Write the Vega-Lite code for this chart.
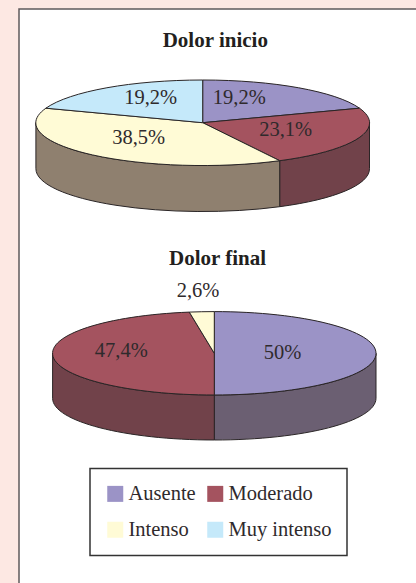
{
"$schema":"https://vega.github.io/schema/vega-lite/v6.json",
"width":399,"height":576,
"autosize":"none",
"padding":{"left":19,"top":9,"right":0,"bottom":0},
"background":"#fde8e3",
"view":{"stroke":"#5f5a5c","strokeWidth":1.5,"fill":"#ffffff"},
"config":{"text":{"font":"Liberation Serif"},"legend":{"strokeWidth":1.5}},
"datasets":{
"porciones":[
{"id":"inicio-ausente","grafico":"Dolor inicio","categoria":"Ausente","pct":19.2,"etiqueta":"19,2%"},
{"id":"inicio-moderado","grafico":"Dolor inicio","categoria":"Moderado","pct":23.1,"etiqueta":"23,1%"},
{"id":"inicio-intenso","grafico":"Dolor inicio","categoria":"Intenso","pct":38.5,"etiqueta":"38,5%"},
{"id":"inicio-muy","grafico":"Dolor inicio","categoria":"Muy intenso","pct":19.2,"etiqueta":"19,2%"},
{"id":"final-ausente","grafico":"Dolor final","categoria":"Ausente","pct":50,"etiqueta":"50%"},
{"id":"final-moderado","grafico":"Dolor final","categoria":"Moderado","pct":47.4,"etiqueta":"47,4%"},
{"id":"final-intenso","grafico":"Dolor final","categoria":"Intenso","pct":2.6,"etiqueta":"2,6%"}
]
},
"data":{"name":"porciones"},
"encoding":{
"x":{"field":"grafico","type":"nominal","axis":null,"scale":{"type":"point","domain":["Dolor inicio","Dolor final"],"range":[183.7,195.3],"padding":0}},
"y":{"field":"grafico","type":"nominal","axis":null,"scale":{"type":"point","domain":["Dolor inicio","Dolor final"],"range":[113.7,344.3],"padding":0}}
},
"layer":[
{
"transform":[{"filter":{"field":"id","oneOf":["inicio-moderado","inicio-intenso","final-ausente","final-moderado"]}}],
"mark":{"type":"point","filled":true,"opacity":1,"size":4,"stroke":"#2a2526","strokeWidth":1},
"encoding":{
"shape":{"field":"id","type":"nominal","legend":null,"scale":{"domain":["inicio-moderado","inicio-intenso","final-ausente","final-moderado"],"range":[
"M166.8,0 A166.8,42.7 0 0 1 77,38 L77,84 A166.8,42.7 0 0 0 166.8,46 Z",
"M77,38 A166.8,42.7 0 0 1 -166.8,0 L-166.8,46 A166.8,42.7 0 0 0 77,84 Z",
"M161.7,0 A161.7,41.7 0 0 1 0,41.7 L0,86.7 A161.7,41.7 0 0 0 161.7,45 Z",
"M0,41.7 A161.7,41.7 0 0 1 -161.7,0 L-161.7,45 A161.7,41.7 0 0 0 0,86.7 Z"]}},
"color":{"field":"id","type":"nominal","legend":null,"scale":{"domain":["inicio-moderado","inicio-intenso","final-ausente","final-moderado"],"range":["#71424a","#8f806f","#6b5f72","#71424a"]}}
}
},
{
"mark":{"type":"point","filled":true,"opacity":1,"size":4,"stroke":"#2a2526","strokeWidth":1},
"encoding":{
"shape":{"field":"id","type":"nominal","legend":null,"scale":{"domain":["inicio-ausente","inicio-moderado","inicio-intenso","inicio-muy","final-ausente","final-moderado","final-intenso"],"range":[
"M0,0 L0,-42.7 A166.8,42.7 0 0 1 156.8,-14.5 Z",
"M0,0 L156.8,-14.5 A166.8,42.7 0 0 1 77,38 Z",
"M0,0 L77,38 A166.8,42.7 0 0 1 -156.8,-14.5 Z",
"M0,0 L-156.8,-14.5 A166.8,42.7 0 0 1 0,-42.7 Z",
"M0,-41.7 A161.7,41.7 0 0 1 0,41.7 Z",
"M0,0 L0,41.7 A161.7,41.7 0 0 1 -25,-41.2 Z",
"M0,0 L-25,-41.2 A161.7,41.7 0 0 1 0,-41.7 Z"]}},
"color":{"field":"categoria","type":"nominal","scale":{"domain":["Ausente","Moderado","Intenso","Muy intenso"],"range":["#9b93c6","#a4535f","#fffbd6","#c5e9fa"]},
"legend":{"title":null,"orient":"none","legendX":71,"legendY":459.5,"direction":"horizontal","columns":2,"padding":15,"strokeColor":"#333333","fillColor":"#ffffff","symbolType":"square","symbolSize":256,"symbolStrokeWidth":0,"symbolOpacity":1,"labelFont":"Liberation Serif","labelFontSize":20.5,"labelColor":"#2f2a2c","labelOffset":3,"columnPadding":9,"rowPadding":15,"labelLimit":200}}
}
},
{"transform":[{"filter":{"field":"id","equal":"inicio-ausente"}}],"mark":{"type":"text","fontSize":20.5,"color":"#2f2a2c","dx":36.6,"dy":-18.7,"baseline":"alphabetic"},"encoding":{"text":{"field":"etiqueta"}}},
{"transform":[{"filter":{"field":"id","equal":"inicio-moderado"}}],"mark":{"type":"text","fontSize":20.5,"color":"#2f2a2c","dx":83,"dy":13.3,"baseline":"alphabetic"},"encoding":{"text":{"field":"etiqueta"}}},
{"transform":[{"filter":{"field":"id","equal":"inicio-intenso"}}],"mark":{"type":"text","fontSize":20.5,"color":"#2f2a2c","dx":-64,"dy":21.6,"baseline":"alphabetic"},"encoding":{"text":{"field":"etiqueta"}}},
{"transform":[{"filter":{"field":"id","equal":"inicio-muy"}}],"mark":{"type":"text","fontSize":20.5,"color":"#2f2a2c","dx":-52,"dy":-18.7,"baseline":"alphabetic"},"encoding":{"text":{"field":"etiqueta"}}},
{"transform":[{"filter":{"field":"id","equal":"final-ausente"}}],"mark":{"type":"text","fontSize":20.5,"color":"#2f2a2c","dx":68.2,"dy":6,"baseline":"alphabetic"},"encoding":{"text":{"field":"etiqueta"}}},
{"transform":[{"filter":{"field":"id","equal":"final-moderado"}}],"mark":{"type":"text","fontSize":20.5,"color":"#2f2a2c","dx":-93,"dy":3.4,"baseline":"alphabetic"},"encoding":{"text":{"field":"etiqueta"}}},
{"transform":[{"filter":{"field":"id","equal":"final-intenso"}}],"mark":{"type":"text","fontSize":20.5,"color":"#2f2a2c","dx":-16.3,"dy":-56,"baseline":"alphabetic"},"encoding":{"text":{"field":"etiqueta"}}},
{"transform":[{"filter":{"field":"id","equal":"inicio-ausente"}}],"mark":{"type":"text","fontSize":21,"fontWeight":"bold","color":"#231f20","dx":12.6,"dy":-75.4,"baseline":"alphabetic"},"encoding":{"text":{"field":"grafico"}}},
{"transform":[{"filter":{"field":"id","equal":"final-ausente"}}],"mark":{"type":"text","fontSize":21,"fontWeight":"bold","color":"#231f20","dx":3.2,"dy":-88.3,"baseline":"alphabetic"},"encoding":{"text":{"field":"grafico"}}}
],
"resolve":{"scale":{"shape":"independent","color":"independent"}}
}
